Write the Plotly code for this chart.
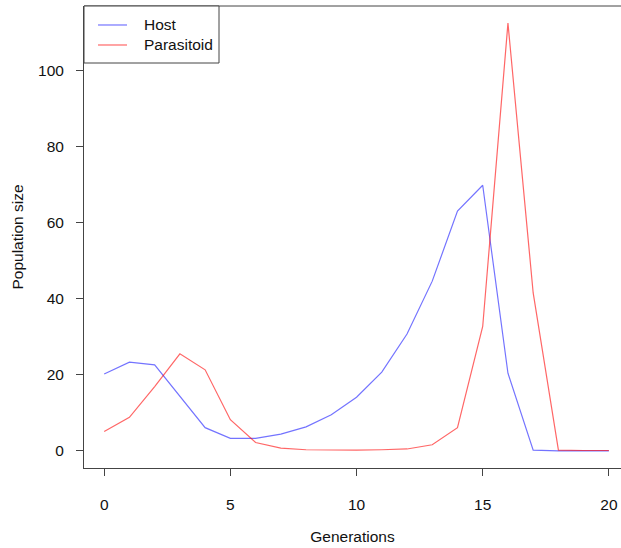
import plotly.graph_objects as go

# Host-parasitoid population dynamics over 20 generations
generations = list(range(21))
host = [20.2, 23.3, 22.6, 14.5, 6.1, 3.3, 3.3, 4.4, 6.3, 9.5, 14.1,
        20.7, 30.7, 44.6, 63.0, 69.8, 20.4, 0.2, 0.0, 0.0, 0.0]
parasitoid = [5.1, 8.8, 16.9, 25.5, 21.3, 8.2, 2.2, 0.7, 0.3, 0.2, 0.2,
              0.3, 0.5, 1.6, 6.1, 32.7, 112.4, 41.5, 0.2, 0.1, 0.1]
series_names = ["Host", "Parasitoid"]
series_colors = ["rgba(0,0,255,0.55)", "rgba(255,0,0,0.6)"]
x_ticks = [0, 5, 10, 15, 20]
y_ticks = [0, 20, 40, 60, 80, 100]

FONT = "Liberation Sans, Arial, sans-serif"
AXIS_COLOR = "#444444"
FS = 15.5

fig = go.Figure()
for name, ys, color in zip(series_names, [host, parasitoid], series_colors):
    fig.add_trace(go.Scatter(x=generations, y=ys, mode="lines", name=name,
                             line=dict(color=color, width=1.2)))

fig.update_layout(
    width=621, height=548,
    margin=dict(l=84, r=0, t=6, b=80),
    paper_bgcolor="white", plot_bgcolor="white",
    font=dict(family=FONT, size=FS, color="#111111"),
    showlegend=False,
    xaxis=dict(range=[-0.8, 20.48], tickvals=x_ticks, ticks="outside", ticklen=7,
               tickcolor=AXIS_COLOR, showline=True, linecolor=AXIS_COLOR, linewidth=1,
               showgrid=False, zeroline=False, ticklabelstandoff=15,
               tickfont=dict(size=FS),
               title=dict(text="Generations", standoff=19, font=dict(size=FS))),
    yaxis=dict(range=[-4.5, 116.9], tickvals=y_ticks, ticks="outside", ticklen=7,
               tickcolor=AXIS_COLOR, showline=True, linecolor=AXIS_COLOR, linewidth=1,
               showgrid=False, zeroline=False, ticklabelstandoff=9,
               tickfont=dict(size=FS),
               title=dict(text="Population size", standoff=10, font=dict(size=FS))),
)

# top edge of the plot frame
fig.add_shape(type="line", xref="paper", yref="paper", x0=0, x1=1, y0=1, y1=1,
              line=dict(color=AXIS_COLOR, width=1))

# legend box in the top-left corner of the plot frame
fig.add_shape(type="rect", xref="paper", yref="paper", x0=0, x1=0.2514,
              y0=0.8766, y1=1, line=dict(color=AXIS_COLOR, width=1),
              fillcolor="white", layer="above")
legend_rows = [0.9589, 0.9156]
for name, color, ly in zip(series_names, series_colors, legend_rows):
    fig.add_shape(type="line", xref="paper", yref="paper", x0=0.0261, x1=0.0801,
                  y0=ly, y1=ly, line=dict(color=color, width=1.2), layer="above")
    fig.add_annotation(xref="paper", yref="paper", x=0.108, y=ly, text=name,
                       showarrow=False, xanchor="left", yanchor="middle",
                       font=dict(size=FS, family=FONT, color="#111111"))

fig.write_html("out.html")
